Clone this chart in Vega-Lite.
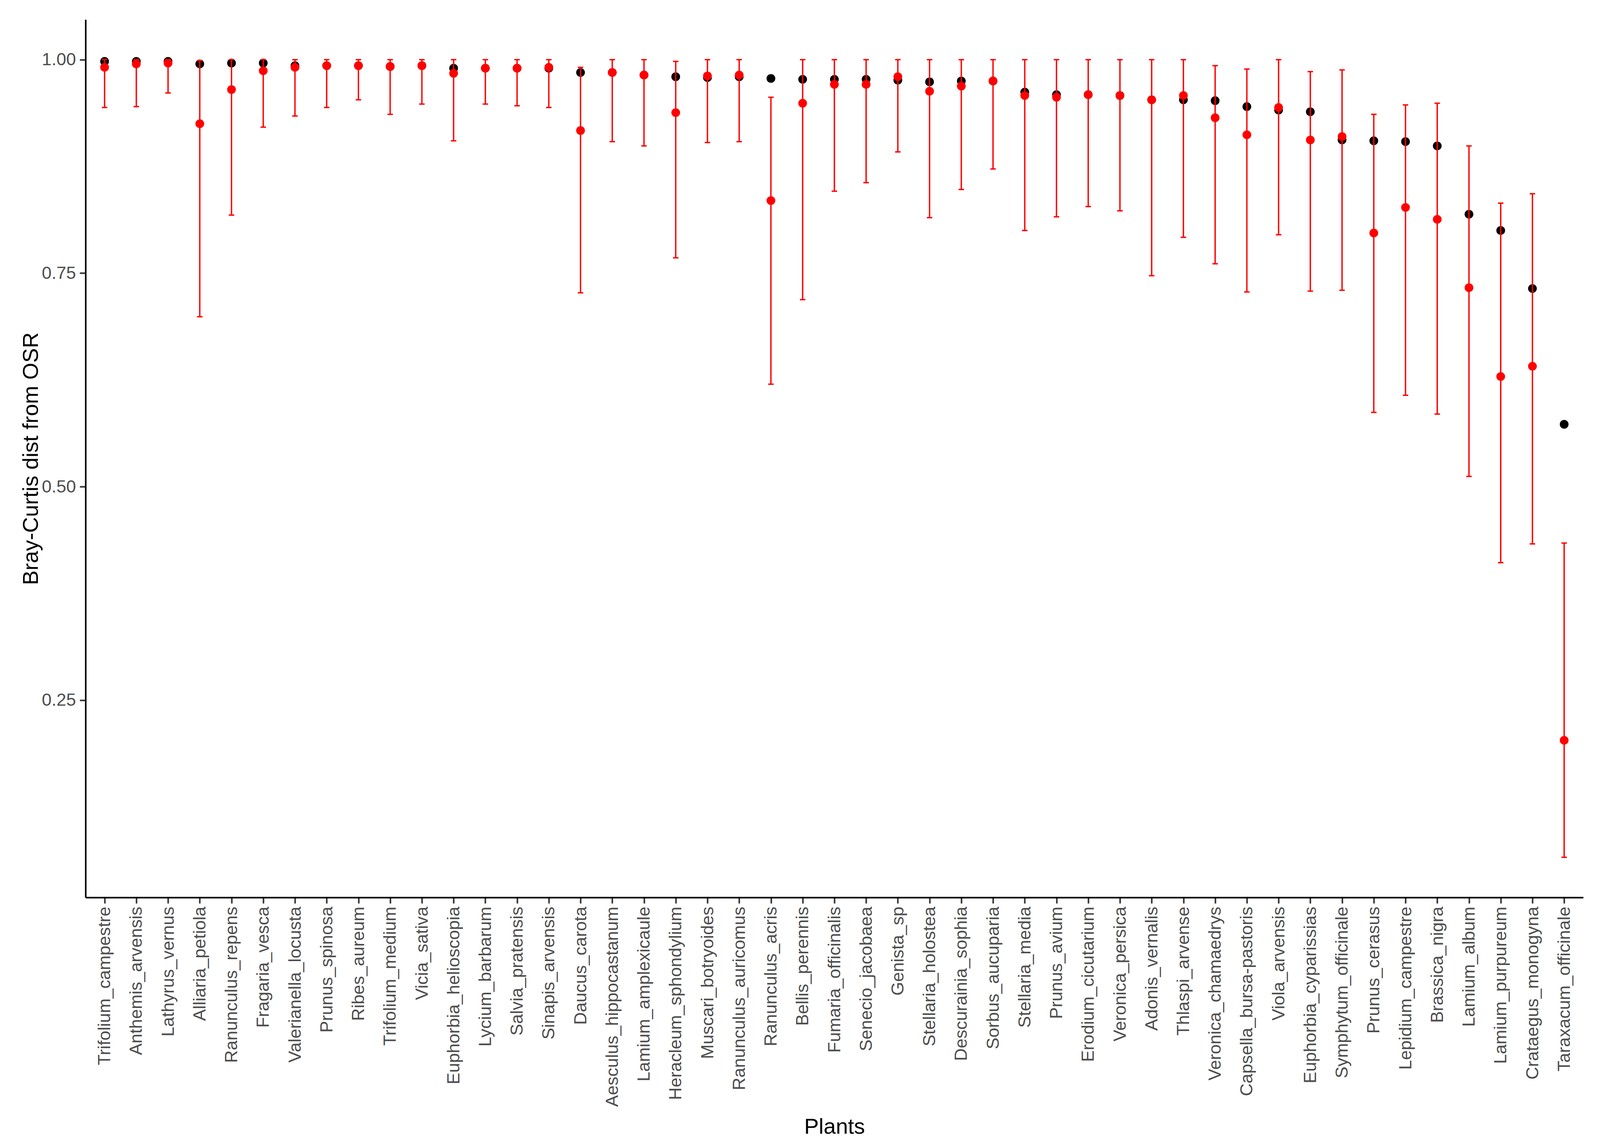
{
  "$schema": "https://vega.github.io/schema/vega-lite/v6.json",
  "autosize": {"type": "none"},
  "padding": {"left": 219, "top": 50, "right": 27, "bottom": 643},
  "width": 3834,
  "height": 2248,
  "background": "white",
  "config": {
    "view": {"stroke": null},
    "font": "Liberation Sans",
    "axis": {
      "grid": false,
      "domainColor": "black",
      "domainWidth": 4,
      "tickColor": "#333333",
      "tickWidth": 4,
      "tickSize": 15,
      "labelColor": "#4D4D4D",
      "labelFont": "Liberation Sans",
      "labelFontSize": 45,
      "labelLimit": 0,
      "titleFont": "Liberation Sans",
      "titleFontSize": 56,
      "titleFontWeight": "normal",
      "titleColor": "black"
    }
  },
  "data": {
    "values": [
      {"plant": "Trifolium_campestre", "obs": 0.998, "mean": 0.991, "lo": 0.944, "hi": 1.0},
      {"plant": "Anthemis_arvensis", "obs": 0.998, "mean": 0.995, "lo": 0.945, "hi": 1.0},
      {"plant": "Lathyrus_vernus", "obs": 0.998, "mean": 0.996, "lo": 0.961, "hi": 1.0},
      {"plant": "Alliaria_petiola", "obs": 0.995, "mean": 0.925, "lo": 0.699, "hi": 0.999},
      {"plant": "Ranunculus_repens", "obs": 0.996, "mean": 0.965, "lo": 0.818, "hi": 1.0},
      {"plant": "Fragaria_vesca", "obs": 0.996, "mean": 0.987, "lo": 0.921, "hi": 1.0},
      {"plant": "Valerianella_locusta", "obs": 0.993, "mean": 0.991, "lo": 0.934, "hi": 1.0},
      {"plant": "Prunus_spinosa", "obs": 0.993, "mean": 0.993, "lo": 0.944, "hi": 1.0},
      {"plant": "Ribes_aureum", "obs": 0.993, "mean": 0.993, "lo": 0.953, "hi": 1.0},
      {"plant": "Trifolium_medium", "obs": 0.992, "mean": 0.992, "lo": 0.936, "hi": 1.0},
      {"plant": "Vicia_sativa", "obs": 0.993, "mean": 0.993, "lo": 0.948, "hi": 1.0},
      {"plant": "Euphorbia_helioscopia", "obs": 0.990, "mean": 0.984, "lo": 0.905, "hi": 1.0},
      {"plant": "Lycium_barbarum", "obs": 0.990, "mean": 0.990, "lo": 0.948, "hi": 1.0},
      {"plant": "Salvia_pratensis", "obs": 0.990, "mean": 0.990, "lo": 0.946, "hi": 1.0},
      {"plant": "Sinapis_arvensis", "obs": 0.990, "mean": 0.991, "lo": 0.944, "hi": 1.0},
      {"plant": "Daucus_carota", "obs": 0.985, "mean": 0.917, "lo": 0.727, "hi": 0.991},
      {"plant": "Aesculus_hippocastanum", "obs": 0.985, "mean": 0.985, "lo": 0.904, "hi": 1.0},
      {"plant": "Lamium_amplexicaule", "obs": 0.982, "mean": 0.982, "lo": 0.899, "hi": 1.0},
      {"plant": "Heracleum_sphondylium", "obs": 0.980, "mean": 0.938, "lo": 0.768, "hi": 0.998},
      {"plant": "Muscari_botryoides", "obs": 0.979, "mean": 0.981, "lo": 0.903, "hi": 1.0},
      {"plant": "Ranunculus_auricomus", "obs": 0.980, "mean": 0.982, "lo": 0.904, "hi": 1.0},
      {"plant": "Ranunculus_acris", "obs": 0.978, "mean": 0.835, "lo": 0.620, "hi": 0.956},
      {"plant": "Bellis_perennis", "obs": 0.977, "mean": 0.949, "lo": 0.719, "hi": 1.0},
      {"plant": "Fumaria_officinalis", "obs": 0.977, "mean": 0.971, "lo": 0.846, "hi": 1.0},
      {"plant": "Senecio_jacobaea", "obs": 0.977, "mean": 0.971, "lo": 0.856, "hi": 1.0},
      {"plant": "Genista_sp", "obs": 0.976, "mean": 0.980, "lo": 0.892, "hi": 1.0},
      {"plant": "Stellaria_holostea", "obs": 0.974, "mean": 0.963, "lo": 0.815, "hi": 1.0},
      {"plant": "Descurainia_sophia", "obs": 0.975, "mean": 0.969, "lo": 0.848, "hi": 1.0},
      {"plant": "Sorbus_aucuparia", "obs": 0.975, "mean": 0.975, "lo": 0.872, "hi": 1.0},
      {"plant": "Stellaria_media", "obs": 0.962, "mean": 0.958, "lo": 0.800, "hi": 1.0},
      {"plant": "Prunus_avium", "obs": 0.959, "mean": 0.956, "lo": 0.816, "hi": 1.0},
      {"plant": "Erodium_cicutarium", "obs": 0.959, "mean": 0.959, "lo": 0.828, "hi": 1.0},
      {"plant": "Veronica_persica", "obs": 0.958, "mean": 0.958, "lo": 0.823, "hi": 1.0},
      {"plant": "Adonis_vernalis", "obs": 0.953, "mean": 0.953, "lo": 0.747, "hi": 1.0},
      {"plant": "Thlaspi_arvense", "obs": 0.953, "mean": 0.958, "lo": 0.792, "hi": 1.0},
      {"plant": "Veronica_chamaedrys", "obs": 0.952, "mean": 0.932, "lo": 0.761, "hi": 0.993},
      {"plant": "Capsella_bursa-pastoris", "obs": 0.945, "mean": 0.912, "lo": 0.728, "hi": 0.989},
      {"plant": "Viola_arvensis", "obs": 0.941, "mean": 0.944, "lo": 0.795, "hi": 1.0},
      {"plant": "Euphorbia_cyparissias", "obs": 0.939, "mean": 0.906, "lo": 0.729, "hi": 0.986},
      {"plant": "Symphytum_officinale", "obs": 0.906, "mean": 0.910, "lo": 0.730, "hi": 0.988},
      {"plant": "Prunus_cerasus", "obs": 0.905, "mean": 0.797, "lo": 0.587, "hi": 0.936},
      {"plant": "Lepidium_campestre", "obs": 0.904, "mean": 0.827, "lo": 0.607, "hi": 0.947},
      {"plant": "Brassica_nigra", "obs": 0.899, "mean": 0.813, "lo": 0.585, "hi": 0.949},
      {"plant": "Lamium_album", "obs": 0.819, "mean": 0.733, "lo": 0.512, "hi": 0.899},
      {"plant": "Lamium_purpureum", "obs": 0.800, "mean": 0.629, "lo": 0.411, "hi": 0.832},
      {"plant": "Crataegus_monogyna", "obs": 0.732, "mean": 0.641, "lo": 0.433, "hi": 0.843},
      {"plant": "Taraxacum_officinale", "obs": 0.573, "mean": 0.203, "lo": 0.066, "hi": 0.434}
    ]
  },
  "encoding": {
    "x": {
      "field": "plant",
      "type": "nominal",
      "sort": null,
      "scale": {"type": "point", "padding": 0.6},
      "axis": {"title": "Plants", "labelAngle": -90, "labelPadding": 8, "titleY": 604, "titleBaseline": "alphabetic"}
    }
  },
  "layer": [
    {
      "mark": {"type": "point", "filled": true, "shape": "circle", "color": "black", "opacity": 1, "size": 500},
      "encoding": {
        "y": {
          "field": "obs",
          "type": "quantitative",
          "scale": {"domain": [0.019, 1.047], "nice": false, "zero": false},
          "axis": {"title": "Bray-Curtis dist from OSR", "values": [0.25, 0.5, 0.75, 1.0], "format": ".2f", "labelPadding": 10, "titleX": -140, "titleBaseline": "middle", "titleAngle": -90}
        }
      }
    },
    {
      "mark": {"type": "rule", "color": "red", "strokeWidth": 3.5},
      "encoding": {
        "y": {"field": "lo", "type": "quantitative"},
        "y2": {"field": "hi"}
      }
    },
    {
      "mark": {"type": "tick", "color": "red", "size": 14, "thickness": 3.5, "opacity": 1},
      "encoding": {"y": {"field": "lo", "type": "quantitative"}}
    },
    {
      "mark": {"type": "tick", "color": "red", "size": 14, "thickness": 3.5, "opacity": 1},
      "encoding": {"y": {"field": "hi", "type": "quantitative"}}
    },
    {
      "mark": {"type": "point", "filled": true, "shape": "circle", "color": "red", "opacity": 1, "size": 500},
      "encoding": {"y": {"field": "mean", "type": "quantitative"}}
    }
  ]
}
